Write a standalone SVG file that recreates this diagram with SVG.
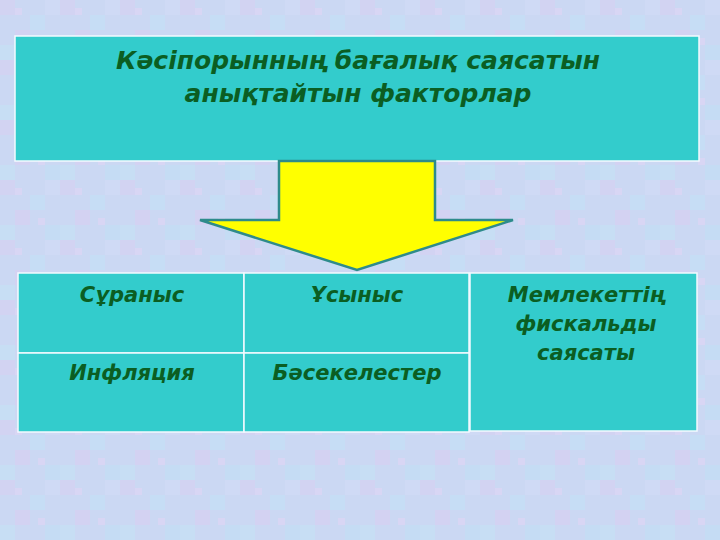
<svg xmlns="http://www.w3.org/2000/svg" width="720" height="540" viewBox="0 0 720 540">
<style>
.box{fill:#33CCCC;stroke:#F4FAFF;stroke-width:1.5}
.t{font-family:"DejaVu Sans","Noto Sans",sans-serif;font-weight:bold;font-style:italic;fill:#0B5E22;text-anchor:middle}
.title{font-size:25px}
.cell{font-size:21px}
.arrow{fill:#FFFF00;stroke:#2E8B8B;stroke-width:2.5;stroke-linejoin:miter}
</style>
<defs>
<pattern id="bg" width="60" height="60" patternUnits="userSpaceOnUse">
<rect width="60" height="60" fill="#CBD8F3"/>
<rect x="0" y="0" width="15" height="15" fill="#D2D3F2"/>
<rect x="30" y="15" width="15" height="15" fill="#C6DDF5"/>
<rect x="15" y="30" width="15" height="15" fill="#D3D2F2"/>
<rect x="45" y="45" width="15" height="15" fill="#C5DCF4"/>
<rect x="45" y="0" width="15" height="15" fill="#CFDAF5"/>
<rect x="0" y="45" width="15" height="15" fill="#C7DEF4"/>
<rect x="15" y="8" width="7" height="7" fill="#D8D6F4"/>
<rect x="38" y="38" width="7" height="7" fill="#D8D6F4"/>
</pattern>
</defs>
<rect width="720" height="540" fill="url(#bg)"/>
<g id="title-node">
<rect class="box" x="15" y="36" width="684" height="125"/>
<text class="t title" x="358" y="69">Кәсіпорынның бағалық саясатын</text>
<text class="t title" x="358" y="102">анықтайтын факторлар</text>
</g>
<g id="connectors">
<path class="arrow" d="M279,161 L279,220 L200,220 L357,270 L513,220 L435,220 L435,161 Z"/>
</g>
<g id="suranys">
<rect class="box" x="18" y="273" width="226" height="80"/>
<text class="t cell" x="132" y="302">Сұраныс</text>
</g>
<g id="usynys">
<rect class="box" x="244" y="273" width="225" height="80"/>
<text class="t cell" x="357" y="302">Ұсыныс</text>
</g>
<g id="inflyatsiya">
<rect class="box" x="18" y="353" width="226" height="79"/>
<text class="t cell" x="132" y="380">Инфляция</text>
</g>
<g id="basekelester">
<rect class="box" x="244" y="353" width="225" height="79"/>
<text class="t cell" x="357" y="380">Бәсекелестер</text>
</g>
<g id="memleket">
<rect class="box" x="470" y="273" width="227" height="158"/>
<text class="t cell" x="586" y="302">Мемлекеттің</text>
<text class="t cell" x="586" y="331">фискальды</text>
<text class="t cell" x="586" y="360">саясаты</text>
</g>
</svg>
